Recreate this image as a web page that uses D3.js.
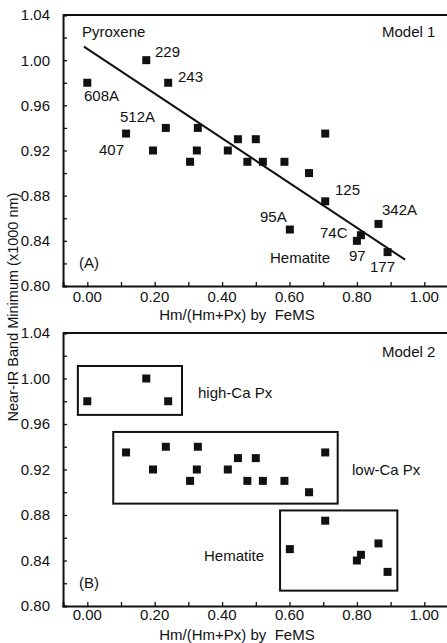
<!DOCTYPE html>
<html>
<head>
<meta charset="utf-8">
<script src="https://cdn.jsdelivr.net/npm/d3@7/dist/d3.min.js"></script>
<style>
  html, body { margin: 0; padding: 0; background: #fff; }
  svg { display: block; }
  text { font-family: "Liberation Sans", Arial, Helvetica, sans-serif; fill: #111; }
</style>
</head>
<body>
<svg id="chart" width="447" height="643"></svg>
<script>
// ---------------- DATA ----------------
const sampleX = [0.00, 0.175, 0.24, 0.115, 0.195, 0.233, 0.328, 0.325, 0.305, 0.417, 0.447, 0.50, 0.475, 0.521, 0.585, 0.706, 0.658, 0.706, 0.601, 0.864, 0.812, 0.80, 0.891];
const sampleY = [0.98, 1.00, 0.98, 0.935, 0.92, 0.94, 0.94, 0.92, 0.91, 0.92, 0.93, 0.93, 0.91, 0.91, 0.91, 0.935, 0.90, 0.875, 0.85, 0.855, 0.845, 0.84, 0.83];
const sampleGroup = ["hi","hi","hi","lo","lo","lo","lo","lo","lo","lo","lo","lo","lo","lo","lo","lo","lo","hm","hm","hm","hm","hm","hm"];

// regression line (Model 1): y = intercept + slope * x
const fitIntercept = 1.010;
const fitSlope = -0.198;
const fitXRange = [-0.01, 0.943];

// group boxes (Model 2), data coordinates [x0, x1, y0, y1]
const boxNames = ["high-Ca Px", "low-Ca Px", "Hematite"];
const boxX0 = [-0.028, 0.077, 0.572];
const boxX1 = [0.281, 0.743, 0.920];
const boxY0 = [0.968, 0.890, 0.8135];
const boxY1 = [1.011, 0.953, 0.884];

const xTickValues = [0.0, 0.1, 0.2, 0.3, 0.4, 0.5, 0.6, 0.7, 0.8, 0.9, 1.0];
const xTickLabels = ["0.00", "", "0.20", "", "0.40", "", "0.60", "", "0.80", "", "1.00"];
const yTickValues = [0.80, 0.82, 0.84, 0.86, 0.88, 0.90, 0.92, 0.94, 0.96, 0.98, 1.00, 1.02, 1.04];
const yTickLabels = ["0.80", "", "0.84", "", "0.88", "", "0.92", "", "0.96", "", "1.00", "", "1.04"];
const xDomain = [-0.072, 1.08];
const yDomain = [0.80, 1.04];

const xTitle = "Hm/(Hm+Px) by  FeMS";
const yTitle = "Near-IR Band Minimum (x1000 nm)";

// ---------------- LAYOUT ----------------
const svg = d3.select("#chart");
const FS = 15;
const x = d3.scaleLinear().domain([0, 1]).range([87.3, 424.3]);
const xLeft = x(xDomain[0]);
const xRight = x(xDomain[1]);

const panels = [
  { top: 15, bottom: 286, tickBase: 302, titleBase: 320 },
  { top: 333, bottom: 606, tickBase: 620, titleBase: 640 }
];

panels.forEach((p, i) => {
  const y = d3.scaleLinear().domain(yDomain).range([p.bottom, p.top]);
  p.y = y;
  const g = svg.append("g");

  // frame: top line
  g.append("line").attr("x1", xLeft).attr("x2", xRight).attr("y1", y(yDomain[1])).attr("y2", y(yDomain[1]))
    .attr("stroke", "#111").attr("stroke-width", 2);

  // y axis (ticks inward)
  const yAxis = d3.axisRight(y).tickValues(yTickValues).tickSize(4).tickFormat("");
  const ya = g.append("g").attr("transform", `translate(${xLeft},0)`).call(yAxis);
  ya.select(".domain").attr("stroke", "#111").attr("stroke-width", 2);
  ya.selectAll(".tick line").attr("stroke", "#111").attr("stroke-width", 1.3);
  g.selectAll(".ylab").data(yTickValues.map((v, k) => ({ v, t: yTickLabels[k] })).filter(d => d.t))
    .enter().append("text")
    .attr("x", 50).attr("y", d => y(d.v)).attr("dy", "0.36em")
    .attr("text-anchor", "end").attr("font-size", FS).text(d => d.t);

  // x axis (ticks inward / upward)
  const xs = d3.scaleLinear().domain(xDomain).range([xLeft, xRight]);
  const xAxis = d3.axisTop(xs).tickValues(xTickValues).tickSize(4).tickFormat("");
  const xa = g.append("g").attr("transform", `translate(0,${p.bottom})`).call(xAxis);
  xa.select(".domain").attr("stroke", "#111").attr("stroke-width", 2);
  xa.selectAll(".tick line").attr("stroke", "#111").attr("stroke-width", 1.3);
  g.selectAll(".xlab").data(xTickValues.map((v, k) => ({ v, t: xTickLabels[k] })).filter(d => d.t))
    .enter().append("text")
    .attr("x", d => x(d.v)).attr("y", p.tickBase)
    .attr("text-anchor", "middle").attr("font-size", FS).text(d => d.t);

  // x title
  g.append("text").attr("x", 237).attr("y", p.titleBase).attr("text-anchor", "middle")
    .attr("font-size", FS).style("white-space", "pre").text(xTitle);

  // points
  g.selectAll(".pt").data(sampleX.map((v, k) => ({ x: v, y: sampleY[k] })))
    .enter().append("rect")
    .attr("x", d => x(d.x) - 4).attr("y", d => y(d.y) - 4)
    .attr("width", 8).attr("height", 8).attr("fill", "#111");
});

// Panel A: regression line
const yA = panels[0].y;
svg.append("line")
  .attr("x1", x(fitXRange[0])).attr("y1", yA(fitIntercept + fitSlope * fitXRange[0]))
  .attr("x2", x(fitXRange[1])).attr("y2", yA(fitIntercept + fitSlope * fitXRange[1]))
  .attr("stroke", "#111").attr("stroke-width", 2);

// Panel B: group boxes
const yB = panels[1].y;
boxNames.forEach((n, k) => {
  svg.append("rect")
    .attr("x", x(boxX0[k])).attr("y", yB(boxY1[k]))
    .attr("width", x(boxX1[k]) - x(boxX0[k])).attr("height", yB(boxY0[k]) - yB(boxY1[k]))
    .attr("fill", "none").attr("stroke", "#111").attr("stroke-width", 2);
});

// annotations (pixel placement)
const notes = [
  ["Pyroxene", 82, 37], ["Model 1", 382, 37], ["229", 155, 57], ["243", 178, 82],
  ["608A", 84, 101], ["512A", 120, 122], ["407", 99, 155], ["125", 335, 195],
  ["342A", 382, 215], ["95A", 260, 222], ["74C", 320, 238], ["97", 349, 261],
  ["177", 370, 272], ["Hematite", 270, 263], ["(A)", 79, 268],
  ["Model 2", 382, 357], [boxNames[0], 198, 398], [boxNames[1], 352, 475],
  [boxNames[2], 204, 561], ["(B)", 79, 588]
];
svg.selectAll(".note").data(notes).enter().append("text")
  .attr("x", d => d[1]).attr("y", d => d[2]).attr("font-size", FS).text(d => d[0]);

// y title
svg.append("text")
  .attr("transform", "translate(18,307) rotate(-90)")
  .attr("text-anchor", "middle").attr("font-size", 14.5)
  .text(yTitle);
</script>
</body>
</html>
